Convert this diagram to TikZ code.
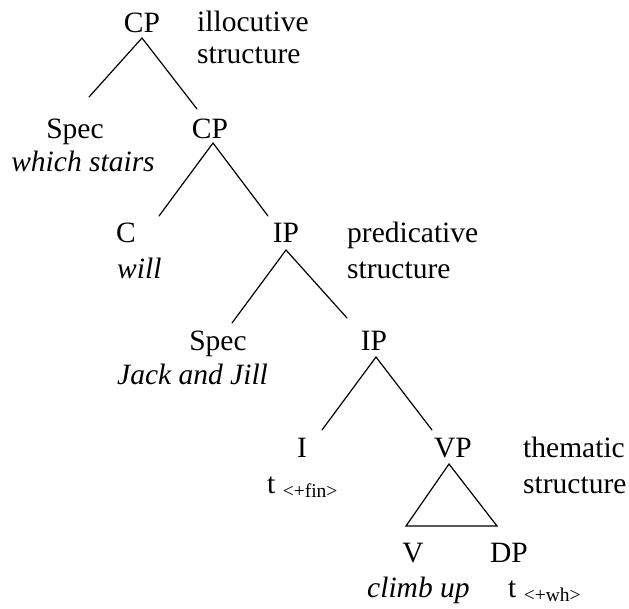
\documentclass[tikz,border=0pt]{standalone}
\usepackage{fontspec}
\setmainfont{Liberation Serif}
\newcommand{\featsub}[1]{\raisebox{-4pt}{\fontsize{19.5}{22}\selectfont #1}}
\begin{document}
\begin{tikzpicture}[x=1pt,y=-1pt,
  lbl/.style={inner sep=0pt, anchor=base, font=\fontsize{29.5}{34}\selectfont},
  lblw/.style={lbl, anchor=base west},
  word/.style={lblw, font=\fontsize{29.5}{34}\selectfont\itshape},
  branch/.style={line width=1.2pt, line cap=round, line join=miter}]
\useasboundingbox (0,0) rectangle (629,608);

% category labels
\node[lbl] (cp1) at (142,32) {CP};
\node[lbl] (spec1) at (75,138) {Spec};
\node[lbl] (cp2) at (210,138) {CP};
\node[lbl] (c) at (126,242) {C};
\node[lbl] (ip1) at (286,242) {IP};
\node[lbl] (spec2) at (218,350) {Spec};
\node[lbl] (ip2) at (374,350) {IP};
\node[lbl] (i) at (302,457) {I};
\node[lbl] (vp) at (453,457) {VP};
\node[lbl] (v) at (413,562) {V};
\node[lbl] (dp) at (509,562) {DP};

% lexical material
\node[lbl, font=\fontsize{29.5}{34}\selectfont\itshape] (which) at (83,171) {which stairs};
\node[word] (will) at (117,278) {will};
\node[word] (jack) at (117,384) {Jack and Jill};
\node[lblw] (tfin) at (267,493) {t \featsub{<+fin>}};
\node[word] (climb) at (367,597) {climb up};
\node[lblw] (twh) at (508,597) {t \featsub{<+wh>}};

% layer annotations
\node[lblw] (ill) at (197,31) {illocutive};
\node[lblw] (ills) at (197,63) {structure};
\node[lblw] (pred) at (347,242) {predicative};
\node[lblw] (preds) at (347,278) {structure};
\node[lblw] (them) at (523,457) {thematic};
\node[lblw] (thems) at (523,493) {structure};

% branch points
\coordinate (cp1-r0) at (142,38);
\coordinate (cp1-l) at (89,97);
\coordinate (cp1-r) at (197,109);
\coordinate (cp2-r0) at (213,143);
\coordinate (cp2-l) at (159,216);
\coordinate (cp2-r) at (268,216);
\coordinate (ip1-r0) at (286,250);
\coordinate (ip1-l) at (232,323);
\coordinate (ip1-r) at (347,318);
\coordinate (ip2-r0) at (376,357);
\coordinate (ip2-l) at (322,430);
\coordinate (ip2-r) at (432,430);
\coordinate (vp-r0) at (449,464);
\coordinate (vp-l) at (406,526);
\coordinate (vp-r) at (497,526);

% branches
\draw[branch] (cp1-l) -- (cp1-r0) -- (cp1-r);
\draw[branch] (cp2-l) -- (cp2-r0) -- (cp2-r);
\draw[branch] (ip1-l) -- (ip1-r0) -- (ip1-r);
\draw[branch] (ip2-l) -- (ip2-r0) -- (ip2-r);
\draw[branch] (vp-r0) -- (vp-l) -- (vp-r) -- cycle;
\end{tikzpicture}
\end{document}
